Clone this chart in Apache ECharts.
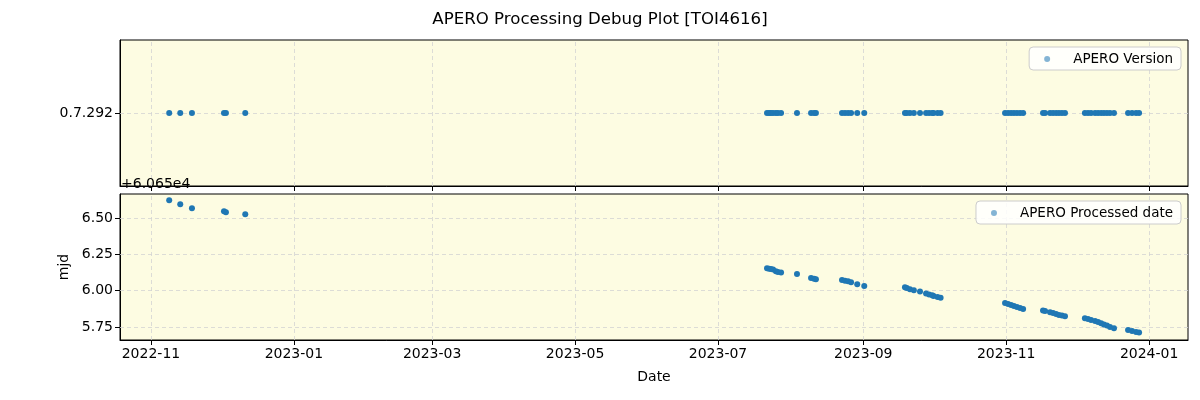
<!DOCTYPE html>
<html><head><meta charset="utf-8">
<script src="https://cdn.jsdelivr.net/npm/echarts@6/dist/echarts.min.js"></script>
<style>html,body{margin:0;padding:0;background:#fff}#c{width:1200px;height:400px}</style>
</head><body><div id="c"></div>
<script>
const dates = ['2022-11-08 19:00','2022-11-13 12:00','2022-11-18 12:00','2022-12-02 04:00','2022-12-03 00:00','2022-12-11 06:00',
'2023-07-21 22:00','2023-07-22 19:00','2023-07-23 14:00','2023-07-24 12:00','2023-07-25 17:00','2023-07-26 14:00','2023-07-27 22:00',
'2023-08-03 17:00','2023-08-09 17:00','2023-08-11 00:00','2023-08-11 19:00','2023-08-22 22:00','2023-08-24 05:00','2023-08-25 12:00',
'2023-08-26 19:00','2023-08-29 10:00','2023-09-01 10:00','2023-09-18 19:00','2023-09-19 14:00','2023-09-20 22:00','2023-09-22 14:00',
'2023-09-25 05:00','2023-09-27 19:00','2023-09-29 02:00','2023-09-30 10:00','2023-10-01 00:00','2023-10-02 17:00','2023-10-04 00:00',
'2023-10-31 12:00','2023-11-01 19:00','2023-11-03 02:00','2023-11-04 07:00','2023-11-05 14:00','2023-11-06 22:00','2023-11-08 05:00',
'2023-11-16 17:00','2023-11-17 14:00','2023-11-19 17:00','2023-11-21 00:00','2023-11-22 07:00','2023-11-23 12:00','2023-11-24 19:00',
'2023-11-26 02:00','2023-12-04 14:00','2023-12-05 22:00','2023-12-07 05:00','2023-12-08 22:00','2023-12-10 05:00','2023-12-11 12:00',
'2023-12-12 17:00','2023-12-14 00:00','2023-12-15 07:00','2023-12-17 00:00','2023-12-23 00:00','2023-12-24 17:00','2023-12-26 10:00',
'2023-12-27 17:00'];
const mjd = [60656.622,60656.594,60656.567,60656.546,60656.539,60656.525,
60656.154,60656.151,60656.148,60656.145,60656.133,60656.128,60656.124,
60656.115,60656.087,60656.082,60656.078,60656.073,60656.068,60656.064,
60656.057,60656.044,60656.032,60656.023,60656.018,60656.009,60656.002,
60655.993,60655.980,60655.973,60655.968,60655.963,60655.956,60655.951,
60655.915,60655.908,60655.901,60655.894,60655.887,60655.881,60655.874,
60655.863,60655.860,60655.851,60655.846,60655.839,60655.832,60655.828,
60655.823,60655.810,60655.805,60655.798,60655.791,60655.784,60655.775,
60655.767,60655.759,60655.750,60655.741,60655.729,60655.722,60655.715,
60655.711];
const versions = dates.map(() => '0.7.292');
const versionCats = ['0.7.292'];
const xTicks = ['2022-11-01','2023-01-01','2023-03-01','2023-05-01','2023-07-01','2023-09-01','2023-11-01','2024-01-01'];
const mjdOffset = 60650;
const mjdTicks = [60655.75, 60656.00, 60656.25, 60656.50];
const title = 'APERO Processing Debug Plot [TOI4616]';

const FONT = 'DejaVu Sans';
const parse = s => Date.UTC(+s.slice(0,4), +s.slice(5,7) - 1, +s.slice(8,10), s.length > 10 ? +s.slice(11,13) : 0, s.length > 10 ? +s.slice(14,16) : 0);
const tickTs = xTicks.map(parse);
const xMin = parse('2022-10-18 19:00'), xMax = parse('2024-01-17 14:00');
const gridLine = {type: [4, 3], color: '#d3d3d3', width: 0.8};
const pad = n => String(n).padStart(2, '0');
const fmtDate = v => { const d = new Date(v); return d.getUTCFullYear() + '-' + pad(d.getUTCMonth() + 1); };

function xAxis(gridIndex, showLabels) {
  return {
    type: 'value', gridIndex, min: xMin, max: xMax,
    axisLine: {show: true, onZero: false, lineStyle: {color: '#000', width: 1}},
    axisTick: {show: true, length: 5, lineStyle: {color: '#000'}, customValues: tickTs},
    axisLabel: {show: showLabels, customValues: tickTs, formatter: fmtDate, color: '#000',
      fontFamily: FONT, fontSize: 14, margin: 7, hideOverlap: false},
    splitLine: {show: false},
    name: showLabels ? 'Date' : '', nameLocation: 'middle', nameGap: 30,
    nameTextStyle: {fontFamily: FONT, fontSize: 14, color: '#000'}
  };
}

const option = {
  backgroundColor: '#fff',
  animation: false,
  title: {text: title, left: 'center', top: 6,
    textStyle: {fontFamily: FONT, fontSize: 16.6, fontWeight: 'normal', color: '#000'}},
  grid: [
    {left: 120, right: 12, top: 40, height: 146, show: true, backgroundColor: '#fdfce2', borderColor: '#000', borderWidth: 1},
    {left: 120, right: 12, top: 194, height: 146, show: true, backgroundColor: '#fdfce2', borderColor: '#000', borderWidth: 1}
  ],
  xAxis: [xAxis(0, false), xAxis(1, true)],
  yAxis: [
    {type: 'value', gridIndex: 0, min: -1, max: 1,
     axisLine: {show: true, lineStyle: {color: '#000'}},
     axisTick: {show: true, length: 5, lineStyle: {color: '#000'}, customValues: [0]},
     axisLabel: {customValues: [0], formatter: v => versionCats[Math.round(v)] || '', color: '#000',
       fontFamily: FONT, fontSize: 14, margin: 7},
     splitLine: {show: false}},
    {type: 'value', gridIndex: 1, min: 60655.66, max: 60656.665,
     axisLine: {show: true, lineStyle: {color: '#000'}},
     axisTick: {show: true, length: 5, lineStyle: {color: '#000'}, customValues: mjdTicks},
     axisLabel: {customValues: mjdTicks, formatter: v => (v - mjdOffset).toFixed(2), color: '#000',
       fontFamily: FONT, fontSize: 14, margin: 7},
     splitLine: {show: false},
     name: 'mjd', nameLocation: 'middle', nameGap: 41, nameRotate: 90,
     nameTextStyle: {fontFamily: FONT, fontSize: 14, color: '#000'}}
  ],
  legend: [
    {data: ['APERO Version'], right: 19, top: 47, orient: 'vertical',
     backgroundColor: 'rgba(255,255,255,0.85)', borderColor: '#cccccc', borderWidth: 1, borderRadius: 4,
     padding: [5, 8, 4, 15], itemWidth: 6, itemHeight: 6, icon: 'circle', itemStyle: {opacity: 0.55},
     textStyle: {fontFamily: FONT, fontSize: 13.5, color: '#000', padding: [0, 0, 0, 18]}},
    {data: ['APERO Processed date'], right: 19, top: 201, orient: 'vertical',
     backgroundColor: 'rgba(255,255,255,0.85)', borderColor: '#cccccc', borderWidth: 1, borderRadius: 4,
     padding: [5, 8, 4, 15], itemWidth: 6, itemHeight: 6, icon: 'circle', itemStyle: {opacity: 0.55},
     textStyle: {fontFamily: FONT, fontSize: 13.5, color: '#000', padding: [0, 0, 0, 18]}}
  ],
  graphic: [
    {type: 'text', left: 121, top: 177, z: 100,
     style: {text: '+6.065e4', fontFamily: FONT, fontSize: 14, fill: '#000'}}
  ],
  series: [
    {name: 'grid0', type: 'scatter', xAxisIndex: 0, yAxisIndex: 0, data: [], z: 1, silent: true,
     markLine: {silent: true, z: 1, symbol: 'none', label: {show: false}, lineStyle: gridLine, animation: false,
       data: tickTs.map(t => ({xAxis: t})).concat([{yAxis: 0}])}},
    {name: 'grid1', type: 'scatter', xAxisIndex: 1, yAxisIndex: 1, data: [], z: 1, silent: true,
     markLine: {silent: true, z: 1, symbol: 'none', label: {show: false}, lineStyle: gridLine, animation: false,
       data: tickTs.map(t => ({xAxis: t})).concat(mjdTicks.map(v => ({yAxis: v})))}},
    {name: 'APERO Version', type: 'scatter', xAxisIndex: 0, yAxisIndex: 0, z: 6,
     symbolSize: 6, itemStyle: {color: '#1f77b4', opacity: 1},
     data: dates.map((d, i) => [parse(d), versionCats.indexOf(versions[i])])},
    {name: 'APERO Processed date', type: 'scatter', xAxisIndex: 1, yAxisIndex: 1, z: 6,
     symbolSize: 6, itemStyle: {color: '#1f77b4', opacity: 1},
     data: dates.map((d, i) => [parse(d), mjd[i]])}
  ]
};
const chart = echarts.init(document.getElementById('c'), null, {renderer: 'canvas'});
chart.setOption(option);
</script></body></html>
